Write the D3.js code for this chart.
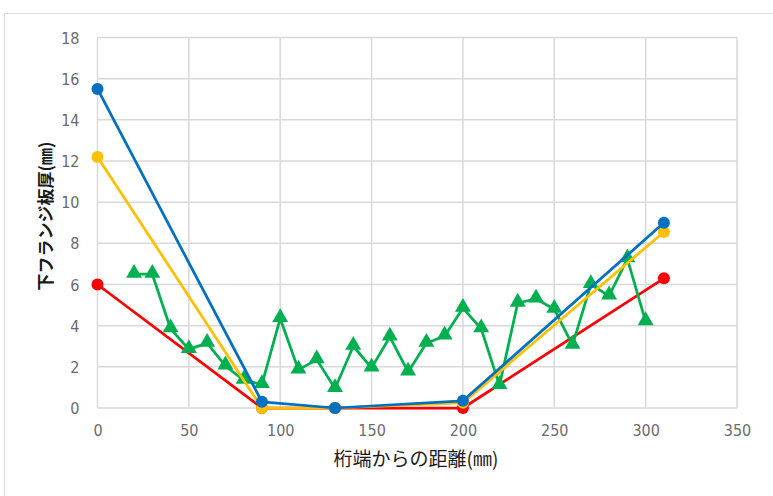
<!DOCTYPE html>
<html>
<head>
<meta charset="utf-8">
<script src="https://cdn.jsdelivr.net/npm/d3@7"></script>
<style>
  html, body { margin: 0; padding: 0; background: #fff; }
  svg { display: block; }
  .tick text { font-family: "Liberation Sans Narrow", "DejaVu Sans Condensed", "Liberation Sans", sans-serif; }
</style>
</head>
<body>
<svg id="chart" width="773" height="496"></svg>
<script>
// Distance from girder end (mm) and lower flange thickness (mm)
const blueX = [0, 90, 130, 200, 310];
const blueY = [15.5, 0.3, 0, 0.35, 9.0];
const yellowX = [0, 90, 130, 200, 310];
const yellowY = [12.2, 0, 0, 0.25, 8.55];
const redX = [0, 90, 130, 200, 310];
const redY = [6.0, 0, 0, 0, 6.3];
const greenX = [20, 30, 40, 50, 60, 70, 80, 90, 100, 110, 120, 130, 140, 150, 160,
                170, 180, 190, 200, 210, 220, 230, 240, 250, 260, 270, 280, 290, 300];
const greenY = [6.5, 6.5, 3.85, 2.85, 3.15, 2.05, 1.35, 1.15, 4.35, 1.85, 2.35, 0.95, 3.0, 1.95, 3.45,
                1.75, 3.15, 3.5, 4.85, 3.85, 1.1, 5.1, 5.3, 4.8, 3.05, 6.0, 5.45, 7.25, 4.2];
const xTicks = [0, 50, 100, 150, 200, 250, 300, 350];
const yTicks = [0, 2, 4, 6, 8, 10, 12, 14, 16, 18];
const xTitle = "桁端からの距離(㎜)";
const yTitle = "下フランジ板厚(㎜)";

const svg = d3.select("#chart");

// chart area frame
svg.append("rect")
  .attr("x", 4.5).attr("y", 13.5)
  .attr("width", 800).attr("height", 500)
  .attr("fill", "#fff").attr("stroke", "#d9d9d9").attr("stroke-width", 1);

const plotL = 97.5, plotR = 737, plotT = 37.5, plotB = 408;
const x = d3.scaleLinear().domain([0, 350]).range([plotL, plotR]);
const y = d3.scaleLinear().domain([0, 18]).range([plotB, plotT]);

// gridlines
const grid = svg.append("g");
grid.selectAll(".gy").data(yTicks).join("line")
  .attr("x1", plotL).attr("x2", plotR)
  .attr("y1", d => y(d)).attr("y2", d => y(d))
  .attr("stroke", "#d9d9d9").attr("stroke-width", 1.5);
grid.selectAll(".gx").data(xTicks).join("line")
  .attr("x1", d => x(d)).attr("x2", d => x(d))
  .attr("y1", plotT).attr("y2", plotB)
  .attr("stroke", "#d9d9d9").attr("stroke-width", 1.5);

// axes (labels only)
const xAxis = svg.append("g").attr("transform", `translate(0,${plotB + 14})`)
  .call(d3.axisBottom(x).tickValues(xTicks).tickSize(0).tickFormat(d3.format("d")));
const yAxis = svg.append("g").attr("transform", `translate(${plotL - 15},0)`)
  .call(d3.axisLeft(y).tickValues(yTicks).tickSize(0).tickFormat(d3.format("d")));
[xAxis, yAxis].forEach(a => {
  a.select(".domain").remove();
  a.selectAll("text").attr("fill", "#6b6b6b").style("font-size", "16px");
});
yAxis.selectAll("text").attr("dy", "0.35em");

const line = d3.line().x(d => x(d[0])).y(d => y(d[1]));
const zip = (xs, ys) => xs.map((v, i) => [v, ys[i]]);

function circleSeries(xs, ys, color) {
  const pts = zip(xs, ys);
  const g = svg.append("g");
  g.append("path").datum(pts).attr("d", line)
    .attr("fill", "none").attr("stroke", color).attr("stroke-width", 2.75)
    .attr("stroke-linejoin", "round");
  g.selectAll("circle").data(pts).join("circle")
    .attr("cx", d => x(d[0])).attr("cy", d => y(d[1])).attr("r", 6)
    .attr("fill", color);
}

function triangleSeries(xs, ys, color) {
  const pts = zip(xs, ys);
  const g = svg.append("g");
  g.append("path").datum(pts).attr("d", line)
    .attr("fill", "none").attr("stroke", color).attr("stroke-width", 2.75)
    .attr("stroke-linejoin", "round");
  const tri = d3.symbol().type(d3.symbolTriangle).size(110);
  g.selectAll(".m").data(pts).join("path")
    .attr("transform", d => `translate(${x(d[0])},${y(d[1]) - 1})`)
    .attr("d", tri).attr("fill", color);
}

circleSeries(redX, redY, "#ff0000");
triangleSeries(greenX, greenY, "#00b050");
circleSeries(yellowX, yellowY, "#ffc000");
circleSeries(blueX, blueY, "#0070c0");

// axis titles
svg.append("text")
  .attr("x", 416).attr("y", 466)
  .attr("text-anchor", "middle")
  .attr("font-family", "'Noto Sans CJK JP', sans-serif")
  .attr("font-size", 19).attr("fill", "#1a1a1a")
  .text(xTitle);

svg.append("text")
  .attr("transform", `translate(52,216) rotate(-90)`)
  .attr("text-anchor", "middle")
  .attr("font-family", "'Noto Sans CJK JP', sans-serif")
  .attr("font-size", 17).attr("font-weight", "bold").attr("fill", "#1a1a1a")
  .text(yTitle);
</script>
</body>
</html>
